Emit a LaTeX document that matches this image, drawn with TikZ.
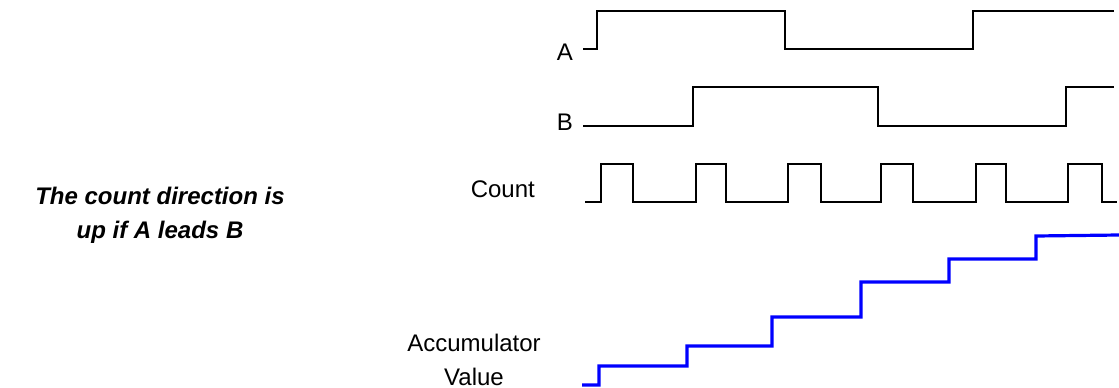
\documentclass[tikz,border=0pt]{standalone}
\usepackage{fontspec}
\setmainfont{Liberation Sans}
\usepackage{tikz}

\begin{document}
\begin{tikzpicture}[x=1pt,y=-1pt,line join=miter,
        signal/.style={draw=black,line width=2pt},
        accum/.style={draw=blue,line width=3.2pt},
        sig label/.style={inner sep=0pt,font=\fontsize{24}{34}\selectfont},
        note/.style={inner sep=0pt,align=center,font=\fontsize{24}{34}\selectfont\bfseries\itshape}]

    \useasboundingbox (0,0) rectangle (1119,388);

    % Labels
    \node[sig label,anchor=base east] (A) at (573,60) {A};
    \node[sig label,anchor=base east] (B) at (573,130) {B};
    \node[sig label,anchor=base east] (count) at (535,197) {Count};
    \node[sig label,anchor=base,align=center] (acc) at (474,385) {Accumulator\\Value};
    \node[note,anchor=base] (dir) at (160,238) {The count direction is\\up if A leads B};

    % Waveforms
    \draw[signal] (583,49) -- (597,49) -- (597,11) -- (785,11) -- (785,49)
        -- (973,49) -- (973,11) -- (1114,11);
    \draw[signal] (583,126) -- (693,126) -- (693,87) -- (878,87) -- (878,126)
        -- (1066,126) -- (1066,87) -- (1114,87);
    \draw[signal] (585,202)
        \foreach \r/\f in {601/633,696/726,788/821,881/913,976/1006,1068/1102}
        { -- (\r,202) -- (\r,164) -- (\f,164) -- (\f,202) }
        -- (1117,202);
    \draw[accum] (582,385) -- (599,385) -- (599,366) -- (687,366) -- (687,346)
        -- (772,346) -- (772,317) -- (861,317) -- (861,282) -- (949,282)
        -- (949,259) -- (1036,259) -- (1036,236) -- (1119,235);

\end{tikzpicture}
\end{document}
